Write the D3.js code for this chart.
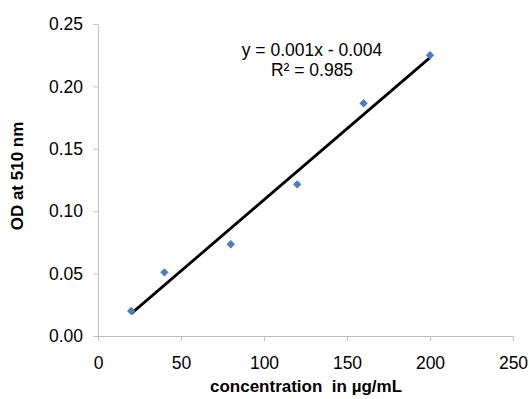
<!DOCTYPE html>
<html>
<head>
<meta charset="utf-8">
<script src="https://cdn.jsdelivr.net/npm/d3@7"></script>
<style>
  body { margin: 0; background: #fff; }
  text { font-family: "Liberation Sans", Arial, sans-serif; fill: #000; }
</style>
</head>
<body>
<div id="chart"></div>
<script>
const concentration = [20, 40, 80, 120, 160, 200];
const od = [0.020, 0.051, 0.0735, 0.1215, 0.1865, 0.225];
const xTicks = [0, 50, 100, 150, 200, 250];
const yTicks = [0, 0.05, 0.10, 0.15, 0.20, 0.25];
const equationText = "y = 0.001x - 0.004";
const r2Text = "R² = 0.985";

const width = 529, height = 399;
const margin = { left: 98, right: 16, top: 24, bottom: 63 };

const svg = d3.select("#chart")
    .append("svg")
    .attr("width", width)
    .attr("height", height);

const x = d3.scaleLinear()
    .domain([0, 250])
    .range([margin.left, width - margin.right]);

const y = d3.scaleLinear()
    .domain([0, 0.25])
    .range([height - margin.bottom, margin.top]);

// axes
const xAxis = svg.append("g")
    .attr("transform", `translate(0, ${height - margin.bottom})`)
    .call(d3.axisBottom(x).tickValues(xTicks).tickSize(5).tickSizeOuter(0).tickPadding(16));

const yAxis = svg.append("g")
    .attr("transform", `translate(${margin.left}, 0)`)
    .call(d3.axisLeft(y).tickValues(yTicks).tickFormat(d3.format(".2f")).tickSize(5).tickSizeOuter(0).tickPadding(10));

[xAxis, yAxis].forEach(g => {
    g.select(".domain").attr("stroke", "#c0c0c0").attr("stroke-width", 1);
    g.selectAll(".tick line").attr("stroke", "#c0c0c0");
    g.selectAll(".tick text")
        .style("font-family", "Liberation Sans, Arial, sans-serif")
        .style("font-size", "17.5px")
        .attr("fill", "#111");
});

// linear fit
const mx = d3.mean(concentration), my = d3.mean(od);
let sxy = 0, sxx = 0;
concentration.forEach((c, i) => {
    sxy += (c - mx) * (od[i] - my);
    sxx += (c - mx) * (c - mx);
});
const slope = sxy / sxx;
const intercept = my - slope * mx;
const xExt = d3.extent(concentration);

svg.append("path")
    .datum(xExt)
    .attr("fill", "none")
    .attr("stroke", "#000")
    .attr("stroke-width", 2.8)
    .attr("d", d3.line()
        .x(d => x(d))
        .y(d => y(slope * d + intercept)));

// points
const points = concentration.map((c, i) => ({ x: c, y: od[i] }));
svg.append("g")
    .selectAll("path")
    .data(points)
    .join("path")
    .attr("transform", d => `translate(${x(d.x)}, ${y(d.y)})`)
    .attr("d", d3.symbol().type(d3.symbolDiamond2).size(45))
    .attr("fill", "#4a7ebb");

// equation
svg.append("text")
    .attr("x", 312)
    .attr("y", 56)
    .attr("text-anchor", "middle")
    .style("font-size", "17.5px")
    .attr("fill", "#111")
    .text(equationText);

svg.append("text")
    .attr("x", 312)
    .attr("y", 76)
    .attr("text-anchor", "middle")
    .style("font-size", "17.5px")
    .attr("fill", "#111")
    .text(r2Text);

// axis titles
svg.append("text")
    .attr("x", 306)
    .attr("y", 392)
    .attr("text-anchor", "middle")
    .style("font-size", "17px")
    .style("font-weight", "bold")
    .style("white-space", "pre")
    .text("concentration  in µg/mL");

svg.append("text")
    .attr("transform", "translate(23, 176) rotate(-90)")
    .attr("text-anchor", "middle")
    .style("font-size", "17px")
    .style("font-weight", "bold")
    .text("OD at 510 nm");
</script>
</body>
</html>
